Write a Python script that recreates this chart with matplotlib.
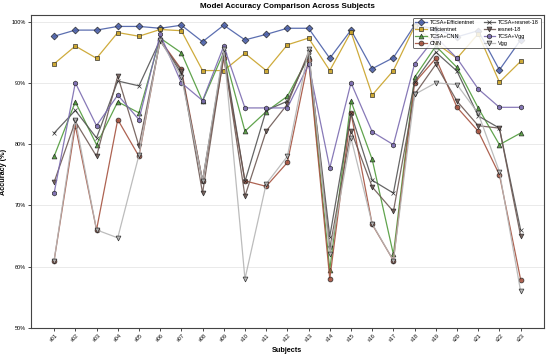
import matplotlib
matplotlib.use("Agg")
import matplotlib.pyplot as plt
import numpy as np

plt.rcParams['font.family'] = ['Liberation Sans', 'DejaVu Sans']

subjects = [f"s{i:02d}" for i in range(1, 24)]

tcsa_effnet = [97.6, 98.6, 98.6, 99.2, 99.2, 98.9, 99.4, 96.7, 99.4, 97.0, 97.9, 98.9, 98.9, 94.0, 98.6, 92.3, 94.1, 99.4, 98.8, 97.5, 98.5, 92.1, 97.0]
effnet      = [93.1, 96.0, 94.0, 98.2, 97.6, 98.7, 98.5, 92.0, 92.0, 94.8, 92.0, 96.2, 97.3, 92.0, 98.3, 88.0, 92.0, 99.2, 96.5, 94.0, 98.0, 90.1, 93.5]
tcsa_cnn    = [78.0, 86.9, 79.9, 86.9, 85.1, 97.3, 94.9, 87.0, 95.0, 82.1, 85.3, 87.8, 94.2, 59.5, 87.0, 77.5, 62.0, 90.9, 96.0, 92.5, 85.9, 79.9, 81.8]
cnn         = [61.0, 83.0, 66.0, 84.0, 78.0, 97.0, 92.2, 74.0, 94.0, 74.0, 73.1, 77.0, 93.8, 58.0, 85.1, 66.9, 61.0, 90.0, 94.0, 86.0, 82.1, 75.0, 57.9]
tcsa_resnet = [81.8, 85.5, 81.0, 90.3, 89.5, 97.0, 91.5, 74.0, 95.0, 73.9, 85.5, 87.0, 94.5, 64.9, 85.0, 74.1, 72.0, 90.2, 95.0, 91.9, 84.6, 82.6, 66.0]
resnet      = [73.8, 83.7, 78.0, 91.1, 79.7, 96.8, 92.0, 72.0, 94.5, 71.5, 82.1, 86.5, 95.0, 63.0, 82.2, 73.0, 69.0, 88.1, 93.0, 87.0, 83.0, 82.6, 65.0]
tcsa_vgg    = [72.0, 90.0, 83.0, 88.0, 84.0, 97.9, 90.0, 87.1, 96.0, 85.9, 85.9, 85.9, 93.0, 76.1, 90.0, 82.0, 79.9, 93.1, 97.5, 94.0, 89.0, 86.0, 86.0]
vgg         = [61.0, 84.0, 66.0, 64.7, 78.2, 97.0, 91.0, 74.0, 95.5, 58.0, 73.5, 78.0, 95.5, 62.0, 81.0, 67.0, 61.0, 88.1, 90.0, 89.7, 85.0, 75.5, 56.0]

series = [
    ("TCSA+Efficientnet", tcsa_effnet, '#4a5fa8', 'D'),
    ("Efficientnet", effnet, '#c9a227', 's'),
    ("TCSA+CNN", tcsa_cnn, '#4f9a3a', '^'),
    ("CNN", cnn, '#a5523f', 'o'),
    ("TCSA+resnet-18", tcsa_resnet, '#555555', 'x'),
    ("resnet-18", resnet, '#6e5a55', 'v'),
    ("TCSA+Vgg", tcsa_vgg, '#7b6bb0', 'h'),
    ("Vgg", vgg, '#b5b5b5', 'v'),
]

fig = plt.figure(figsize=(5.5, 3.58), dpi=100)
ax = fig.add_axes([0.056, 0.084, 0.933, 0.873])

x = np.arange(len(subjects))
for name, vals, col, mk in series:
    ax.plot(x, vals, color=col, marker=mk, markersize=3.5, linewidth=0.9,
            markeredgecolor='#222222', markeredgewidth=0.5, markerfacecolor=col,
            label=name, alpha=0.9)

ax.set_xticks(x)
ax.set_xticklabels(subjects, rotation=45, fontsize=4)
ax.set_ylim(50, 101)
ax.set_yticks([50, 60, 70, 80, 90, 100])
ax.set_yticklabels([f"{v}%" for v in [50, 60, 70, 80, 90, 100]], fontsize=4)
ax.tick_params(axis='both', length=2, width=0.5, pad=1.5)
ax.grid(axis='y', color='#e6e6e6', linewidth=0.6)
ax.set_axisbelow(True)
for s in ax.spines.values():
    s.set_linewidth(0.8)
    s.set_color('#444444')

ax.set_title("Model Accuracy Comparison Across Subjects", fontsize=5.8, fontweight='bold', pad=5)
ax.set_xlabel("Subjects", fontsize=5.2, fontweight='bold', labelpad=3)
ax.set_ylabel("Accuracy (%)", fontsize=5.2, fontweight='bold', labelpad=3)

leg = ax.legend(loc='upper right', ncol=2, fontsize=4, frameon=True, edgecolor='#333333',
                framealpha=0.85, borderpad=0.4, handlelength=2.0, columnspacing=1.6,
                labelspacing=0.35, handletextpad=0.6)
leg.get_frame().set_linewidth(0.6)

fig.savefig("out.png", dpi=100)
